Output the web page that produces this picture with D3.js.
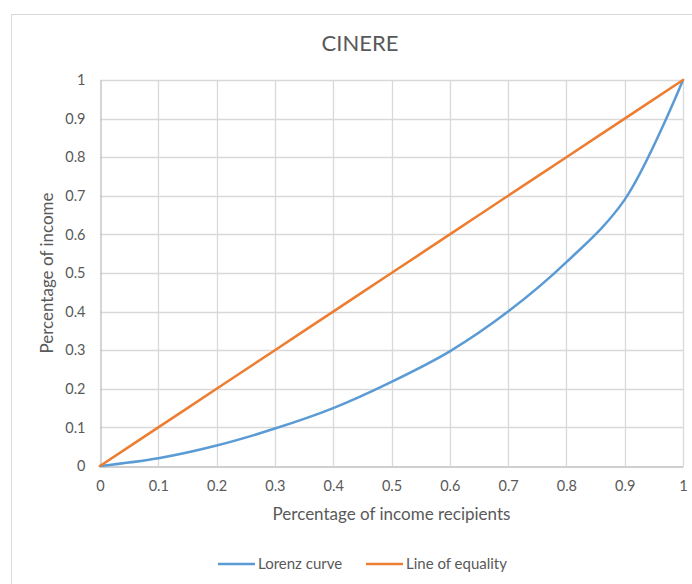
<!DOCTYPE html>
<html>
<head>
<meta charset="utf-8">
<script src="https://cdn.jsdelivr.net/npm/d3@7"></script>
<style>
  html, body { margin: 0; padding: 0; background: #fff; }
  svg { display: block; font-family: Lato, "Open Sans", sans-serif; }
</style>
</head>
<body>
<svg id="chart" width="692" height="584"></svg>
<script>
// Cumulative share of income recipients (x) and income (y)
const recipientShare = [0, 0.1, 0.2, 0.3, 0.4, 0.5, 0.6, 0.7, 0.8, 0.9, 1];
const lorenzIncome   = [0, 0.02, 0.053, 0.097, 0.15, 0.218, 0.297, 0.4, 0.528, 0.69, 1];
const equalityIncome = [0, 0.1, 0.2, 0.3, 0.4, 0.5, 0.6, 0.7, 0.8, 0.9, 1];
const xTicks = [0, 0.1, 0.2, 0.3, 0.4, 0.5, 0.6, 0.7, 0.8, 0.9, 1];
const yTicks = [0, 0.1, 0.2, 0.3, 0.4, 0.5, 0.6, 0.7, 0.8, 0.9, 1];
const seriesNames = ["Lorenz curve", "Line of equality"];
const seriesColors = ["#5B9BD5", "#ED7D31"];

const svg = d3.select("#chart");
const margin = { left: 100, right: 9, top: 80, bottom: 118 };
const W = 692, H = 584;
const x = d3.scaleLinear().domain([0, 1]).range([margin.left, W - margin.right]);
const y = d3.scaleLinear().domain([0, 1]).range([H - margin.bottom, margin.top]);
const textColor = "#595959";

// chart frame
svg.append("rect")
  .attr("x", 11.5).attr("y", 14.5)
  .attr("width", 720).attr("height", 620)
  .attr("fill", "#fff").attr("stroke", "#d9d9d9");

// gridlines
svg.append("g").selectAll("line").data(yTicks.filter(d => d > 0)).join("line")
  .attr("x1", x(0)).attr("x2", x(1))
  .attr("y1", d => Math.round(y(d)) + 0.5).attr("y2", d => Math.round(y(d)) + 0.5)
  .attr("stroke", "#d9d9d9").attr("stroke-width", 1.3);
svg.append("g").selectAll("line").data(xTicks.filter(d => d > 0)).join("line")
  .attr("y1", y(0)).attr("y2", y(1))
  .attr("x1", d => Math.round(x(d)) + 0.5).attr("x2", d => Math.round(x(d)) + 0.5)
  .attr("stroke", "#d9d9d9").attr("stroke-width", 1.3);

// axes
const fmt = d => d3.format("~g")(d);
const xAxis = svg.append("g")
  .attr("transform", `translate(0,${Math.round(y(0)) + 0.5})`)
  .call(d3.axisBottom(x).tickValues(xTicks).tickFormat(fmt).tickSize(0).tickPadding(14));
const yAxis = svg.append("g")
  .attr("transform", `translate(${Math.round(x(0)) + 0.5},0)`)
  .call(d3.axisLeft(y).tickValues(yTicks).tickFormat(fmt).tickSize(0).tickPadding(15));
[xAxis, yAxis].forEach(g => {
  g.select(".domain").attr("stroke", "#bfbfbf").attr("stroke-width", 1.3);
  g.selectAll("text").attr("fill", textColor).attr("font-size", 14.5)
    .attr("font-family", "Lato, 'Open Sans', sans-serif");
});

// series lines
const line = d3.line()
  .x((d, i) => x(recipientShare[i]))
  .y(d => y(d))
  .curve(d3.curveCatmullRom.alpha(0.5));
[lorenzIncome, equalityIncome].forEach((vals, i) => {
  svg.append("path").datum(vals)
    .attr("d", line)
    .attr("fill", "none")
    .attr("stroke", seriesColors[i])
    .attr("stroke-width", 2.5)
    .attr("stroke-linecap", "round");
});

// title and axis titles
svg.append("text").attr("x", 360).attr("y", 51)
  .attr("text-anchor", "middle").attr("font-size", 22).attr("fill", textColor)
  .text("CINERE");
svg.append("text").attr("x", (x(0) + x(1)) / 2).attr("y", 520)
  .attr("text-anchor", "middle").attr("font-size", 17).attr("fill", textColor)
  .text("Percentage of income recipients");
svg.append("text")
  .attr("transform", `translate(53,${(y(0) + y(1)) / 2}) rotate(-90)`)
  .attr("text-anchor", "middle").attr("font-size", 17).attr("fill", textColor)
  .text("Percentage of income");

// legend
const legendItems = [
  { name: seriesNames[0], color: seriesColors[0], x: 218 },
  { name: seriesNames[1], color: seriesColors[1], x: 366 }
];
const lg = svg.append("g").selectAll("g").data(legendItems).join("g")
  .attr("transform", d => `translate(${d.x},564)`);
lg.append("line").attr("x1", 0).attr("x2", 37).attr("y1", 0).attr("y2", 0)
  .attr("stroke", d => d.color).attr("stroke-width", 2.5);
lg.append("text").attr("x", 40).attr("y", 5)
  .attr("font-size", 15).attr("fill", textColor)
  .text(d => d.name);
</script>
</body>
</html>
